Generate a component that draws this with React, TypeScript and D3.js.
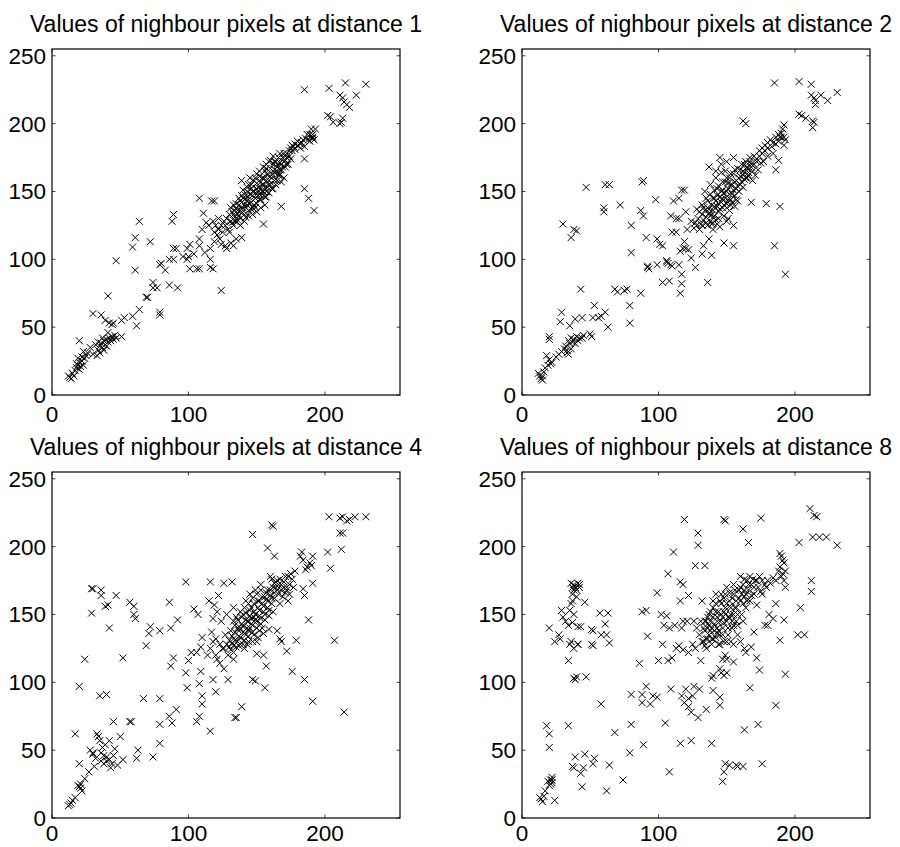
import React from "react";
import { scaleLinear } from "d3";

// values, [x, y] in pixel-value units
const dist1: number[][] = [
  [230,229],[215,230],[203,226],[185,225],[211,221],[223,221],[213,219],[214,216],[216,214],[218,212],[202,206],[204,205],[206,201],[211,200],[213,204],[212,201],
  [189,190],[191,189],[188,188],[190,191],[193,196],[190,196],[191,190],[192,188],[189,187],[185,183],[182,182],[177,183],[175,182],[178,185],[180,184],[183,186],[186,189],[172,178],[176,180],[174,176],[185,174],[185,152],[188,145],[192,136],[168,139],[155,126],[124,77],
  [170,172],[172,170],[169,175],[171,168],[166,163],[170,160],[168,157],[173,170],[175,174],[167,166],[165,170],[163,166],[161,160],[164,155],[160,173],[162,176],[167,178],[171,176],[158,163],[157,167],
  [130,133],[132,135],[134,131],[135,138],[136,134],[137,140],[138,136],[139,142],[140,138],[141,133],[142,145],[143,140],[144,136],[145,148],[146,142],[147,138],[148,150],[149,145],[150,141],[151,153],[152,148],[153,144],[154,155],[155,150],[156,146],[157,158],[158,153],[159,149],[160,161],[161,156],[162,152],[163,164],[164,159],[165,168],[166,162],[167,171],[168,166],[135,128],[138,130],[141,128],[144,132],[147,133],[150,135],[153,138],[156,140],[140,151],[144,155],[148,158],[152,161],[156,165],[145,160],[142,147],[133,140],[131,128],[128,130],[127,125],[129,122],[139,158],[146,152],[150,156],[154,160],[137,145],[136,129],[134,136],[143,143],[147,147],[151,150],[155,155],[159,158],[148,140],[152,144],[145,135],[139,134],[142,138],[157,150],[160,155],[153,152],
  [131,138],[133,133],[135,141],[136,136],[138,143],[139,137],[140,145],[141,140],[143,150],[144,146],[145,141],[146,155],[147,150],[148,146],[149,160],[150,152],[151,147],[152,165],[153,157],[154,150],[155,160],[156,153],[157,170],[158,162],[159,155],[160,167],[161,163],[162,170],[163,158],[164,172],[165,165],[166,175],[167,162],[168,170],[169,168],[170,178],[171,173],[172,175],[174,180],[176,184],[178,181],[180,187],[182,185],[184,188],[187,192],[189,192],[191,192],[142,131],[146,137],[149,138],[153,147],[157,146],[161,152],[165,158],[137,132],[134,128],[139,147],[143,153],[150,163],[155,168],[159,172],[163,172],[138,125],[132,127],
  [108,145],[117,143],[119,143],[111,134],[110,122],[108,115],[108,110],[101,111],[99,108],[100,102],[99,100],[101,93],[106,93],[108,93],[116,100],[116,94],[118,93],[116,108],[119,113],[121,118],[123,115],[124,111],[127,110],[128,108],[131,112],[133,110],[135,115],[139,116],[120,125],[122,122],[125,120],[126,128],[122,130],[118,128],[115,125],[113,127],[119,120],[124,125],[112,105],[104,104],[130,120],[133,125],
  [89,133],[88,128],[89,108],[91,108],[86,100],[79,96],[80,97],[89,100],[92,79],[86,81],[74,83],[69,72],[70,72],[74,79],[79,61],[79,59],[64,128],[61,116],[59,109],[72,113],[47,99],[61,92],[41,73],[64,63],[62,51],[59,58],[53,57],[51,55],[45,53],[51,43],[30,60],[36,59],[39,55],[42,53],[44,52],[96,102],[77,79],[83,92],
  [20,40],[23,32],[19,27],[28,35],[26,31],[30,30],[33,29],[34,33],[35,36],[36,38],[37,35],[38,40],[39,37],[40,41],[41,39],[42,42],[43,40],[44,43],[45,41],[35,31],[38,33],[32,37],[40,36],[46,44],[47,42],[37,42],[34,39],[41,46],
  [12,14],[14,12],[15,16],[17,18],[18,20],[19,22],[20,24],[21,21],[22,25],[24,27],[20,19],[16,14],[18,23],[22,28],[25,29],[23,22],[13,13],
];

const dist2: number[][] = [
  [185,230],[203,231],[212,229],[231,223],[212,221],[214,219],[219,221],[215,217],[224,217],[215,214],[203,207],[205,206],[208,204],[213,202],[214,201],[213,197],[162,202],[164,200],
  [192,199],[191,196],[190,193],[192,190],[193,188],[192,184],[189,190],[188,187],[186,185],[183,183],[180,182],[188,173],[186,166],[189,139],[179,141],[168,142],[155,125],[148,112],[155,110],[185,110],[193,89],[136,83],[139,103],
  [178,180],[176,178],[174,176],[172,174],[175,171],[170,170],[173,166],[168,168],[166,164],[171,162],[169,158],[165,160],[167,172],[163,170],[160,166],[162,162],[177,172],[180,176],[184,178],
  [127,127],[129,130],[131,126],[132,133],[133,129],[134,136],[135,131],[136,138],[137,134],[138,128],[139,140],[140,136],[141,132],[142,143],[143,139],[144,135],[145,146],[146,142],[147,138],[148,149],[149,145],[150,141],[151,152],[152,148],[153,144],[154,155],[155,151],[156,147],[157,158],[158,154],[159,150],[160,161],[161,157],[162,153],[163,164],[164,160],[165,167],[132,140],[135,145],[138,148],[141,151],[144,154],[147,157],[150,160],[153,163],[156,166],[136,125],[140,127],[144,130],[148,132],[152,136],[156,139],[130,122],[126,123],[124,128],[128,137],[134,150],[137,168],[145,175],[150,172],[142,160],[146,164],[155,175],[139,126],[143,126],[151,130],[154,142],[158,143],[143,147],[147,151],[151,156],[149,165],[138,132],[141,145],
  [130,135],[133,138],[135,127],[136,143],[137,137],[139,133],[140,145],[141,139],[142,129],[143,152],[144,141],[145,137],[146,150],[147,145],[148,140],[149,157],[150,150],[151,144],[152,160],[153,155],[154,148],[155,163],[156,157],[157,152],[158,167],[159,160],[160,155],[161,170],[162,165],[163,159],[164,172],[165,168],[166,162],[167,175],[168,170],[169,165],[170,176],[172,172],[174,180],[176,182],[178,184],[180,186],[182,188],[184,186],[186,190],[188,192],[190,190],[140,122],[145,124],[150,128],[138,155],[142,165],[146,170],[132,125],[128,125],[150,138],[153,140],[157,144],
  [121,122],[119,113],[120,108],[118,108],[122,107],[116,106],[124,101],[127,94],[133,110],[132,104],[137,115],[116,75],[117,82],[117,89],[108,84],[103,83],[99,96],[101,111],[99,115],[103,110],[92,94],[93,93],[92,95],[106,98],[107,97],[109,96],[115,96],[110,95],[113,130],[109,132],[111,143],[115,145],[117,151],[119,151],[110,120],[113,120],[115,130],[120,135],[98,144],[106,99],
  [30,126],[36,116],[38,122],[40,121],[47,153],[60,138],[60,135],[61,155],[64,155],[72,140],[80,125],[80,105],[87,136],[89,132],[88,157],[89,158],[91,116],[79,66],[79,53],[87,75],[77,78],[75,77],[70,76],[68,78],[43,78],[61,61],[63,50],[58,58],[56,57],[53,66],[52,57],[44,57],[39,56],[35,51],[28,54],[29,61],[20,43],[20,41],
  [18,29],[20,26],[22,24],[21,23],[25,28],[27,30],[29,32],[31,34],[33,33],[32,36],[35,38],[34,40],[36,42],[37,39],[38,41],[39,38],[40,43],[41,40],[42,42],[44,42],[45,44],[50,45],[51,43],[33,31],[34,30],[36,34],
  [14,12],[15,11],[13,14],[16,17],[12,16],[17,20],[19,22],[15,14],
];

const dist4: number[][] = [
  [203,222],[211,221],[213,222],[216,219],[218,220],[222,222],[230,222],[211,210],[213,210],[212,198],[202,196],[204,184],[147,209],[161,216],[162,215],[158,199],[163,193],
  [183,196],[182,193],[184,190],[189,188],[190,186],[191,193],[187,185],[186,183],[191,173],[184,169],[185,164],[188,146],[207,131],[214,78],[191,86],[185,102],[176,108],[172,123],[179,131],[167,132],[168,130],[165,138],[156,96],[157,112],[155,120],[150,121],[147,102],[149,101],[134,74],[135,74],[139,82],
  [175,180],[178,182],[173,178],[176,176],[170,174],[172,170],[168,168],[166,172],[164,170],[169,163],[171,166],[167,158],[173,160],[174,165],[177,170],[163,162],[160,178],[161,176],[165,175],
  [128,128],[130,131],[131,124],[132,134],[133,127],[134,137],[135,131],[136,140],[137,134],[138,128],[139,143],[140,137],[141,131],[142,146],[143,140],[144,134],[145,149],[146,143],[147,137],[148,152],[149,146],[150,140],[151,155],[152,149],[153,143],[154,158],[155,152],[156,146],[157,161],[158,155],[159,149],[160,164],[161,158],[162,152],[135,148],[138,152],[141,155],[144,158],[147,162],[150,165],[153,168],[143,128],[147,130],[151,133],[155,136],[159,139],[129,120],[125,125],[127,135],[133,145],[140,150],[146,155],[152,160],[145,140],[149,144],[137,127],[141,125],[133,122],[150,130],[154,140],[138,140],[142,135],[148,148],[156,163],[158,168],[142,160],[144,145],
  [131,138],[133,132],[134,142],[135,126],[136,146],[137,138],[138,133],[139,148],[140,141],[141,136],[142,151],[143,145],[144,138],[145,153],[146,147],[147,142],[148,158],[149,150],[150,145],[151,160],[152,153],[153,147],[154,163],[155,156],[156,150],[157,166],[158,160],[159,153],[160,168],[161,162],[162,170],[163,166],[164,174],[165,168],[166,165],[167,176],[168,172],[170,170],[171,178],[172,168],[174,172],[163,173],[136,130],[140,128],[144,130],[148,135],[152,138],[132,129],[130,126],[145,165],[149,168],[153,172],
  [115,160],[119,157],[122,164],[116,174],[126,173],[132,174],[118,147],[121,152],[124,145],[128,150],[133,155],[117,137],[120,132],[123,128],[126,125],[116,125],[118,130],[120,120],[114,120],[123,114],[126,110],[121,117],[133,117],[129,102],[118,102],[120,93],[110,84],[110,90],[108,99],[106,71],[108,75],[116,64],[106,122],[100,116],[98,107],[99,96],[98,174],[109,108],[109,126],[110,133],[107,150],[104,154],[102,122],
  [91,80],[86,75],[88,70],[87,112],[89,118],[87,140],[86,159],[92,146],[79,138],[79,88],[79,69],[79,55],[71,136],[72,141],[69,127],[67,88],[74,45],[63,50],[62,44],[57,159],[60,156],[60,150],[61,147],[52,118],[47,164],[42,140],[39,156],[41,157],[36,168],[36,164],[29,169],[30,169],[29,151],[24,117],[20,97],[35,90],[40,91],[17,62],[20,40],
  [45,71],[50,60],[57,71],[58,71],[33,62],[34,60],[35,57],[37,52],[38,46],[40,45],[42,43],[44,40],[32,44],[30,48],[39,54],[42,57],[28,50],[30,47],[36,42],[40,42],[38,40],[45,46],[46,51],[43,37],[31,38],[36,48],[52,43],[48,39],
  [20,23],[21,22],[19,24],[17,15],[14,11],[12,9],[13,10],[15,13],[22,20],[21,25],[24,29],[27,34],
];

const dist8: number[][] = [
  [211,228],[214,223],[216,222],[213,207],[218,207],[223,207],[231,201],[203,203],[175,221],[148,220],[149,219],[119,220],[162,213],[129,210],[129,201],[166,203],[111,196],[127,186],[134,186],[107,180],[116,174],[118,172],[116,160],[122,164],[99,166],[102,150],[88,152],[91,153],[92,134],[86,114],[80,69],[79,48],[89,54],[91,97],[88,91],[88,85],[80,91],
  [163,65],[167,96],[173,69],[176,40],[186,83],[174,109],[193,106],[192,146],[180,142],[189,131],[202,135],[207,135],[204,155],[212,167],[212,175],[193,170],
  [189,195],[190,193],[191,190],[192,188],[189,185],[193,182],[190,178],[191,180],[192,175],[186,175],[182,173],[179,170],[176,165],[172,157],[178,172],[175,167],[180,175],[184,177],[188,182],[186,158],[184,147],[181,150],[178,142],
  [168,126],[172,118],[164,122],[163,125],[170,137],[160,130],
  [130,135],[132,130],[133,140],[134,127],[135,145],[136,132],[137,150],[138,138],[139,128],[140,155],[141,143],[142,133],[143,148],[144,138],[145,160],[146,150],[147,140],[148,130],[149,155],[150,145],[151,135],[152,160],[153,150],[154,140],[155,165],[156,155],[157,145],[158,135],[159,168],[160,160],[161,150],[162,172],[163,163],[164,155],[165,175],[166,168],[167,160],[168,172],[170,165],[171,175],[173,170],[146,165],[150,170],[155,172],[160,178],[138,145],[142,152],[148,144],[152,148],[145,128],[140,132],[135,125],[128,140],[126,145],[132,160],[142,165],[150,130],[155,128],[158,142],[162,145],[134,145],[144,144],[148,152],[152,156],[154,145],[137,142],[145,135],[157,155],[163,168],[153,130],[149,120],
  [133,130],[134,138],[135,132],[136,148],[137,135],[138,152],[139,140],[140,148],[141,138],[142,158],[143,140],[144,152],[145,145],[146,158],[147,148],[148,162],[149,150],[150,158],[151,148],[152,166],[153,155],[154,162],[155,150],[156,168],[157,160],[158,150],[159,162],[160,170],[161,165],[162,158],[163,176],[164,165],[165,160],[166,172],[167,178],[168,164],[169,176],[170,170],[172,175],[174,178],[176,175],[139,132],[143,136],[147,135],[151,140],[155,142],[144,128],[136,140],[131,145],[140,160],[149,165],
  [147,117],[150,117],[155,115],[145,110],[146,107],[150,107],[148,105],[140,105],[140,94],[145,89],[145,83],[139,103],[130,95],[135,80],[125,90],[122,88],[122,82],[124,78],[129,74],[126,97],[117,90],[119,85],[120,95],[124,57],[116,55],[139,55],[131,116],[127,125],[125,128],[122,122],[118,124],[115,127],[113,125],[110,118],[107,116],[103,128],[100,116],[108,140],[112,142],[117,140],[118,145],[121,145],[106,149],[104,142],[109,95],[105,70],[108,34],[99,89],[94,84],[96,90],
  [147,27],[148,34],[149,40],[152,39],[157,39],[158,38],[162,38],
  [68,63],[74,28],[64,39],[62,20],[58,84],[53,44],[52,40],[52,138],[52,127],[63,151],[64,129],[61,143],[62,135],[57,151],[58,135],[51,128],[51,139],[46,159],[43,141],[41,128],[47,104],[40,104],[39,102],[38,103],[34,116],[34,68],[46,47],[45,37],[44,23],[37,38],[38,37],[39,45],[43,33],
  [37,165],[38,168],[39,170],[40,163],[37,160],[36,158],[35,153],[29,153],[30,148],[32,145],[34,142],[36,130],[35,128],[38,125],[41,128],[27,135],[28,132],[24,130],[20,140],[36,173],[38,172],[41,173],[42,170],[40,168],[37,170],[42,172],[38,150],[37,144],[41,141],
  [18,68],[20,62],[20,52],[22,26],[21,25],[20,24],[19,27],[22,30],[17,20],[16,16],[14,14],[15,12],[13,15],[24,13],[21,28],[22,28],
];

const titles = [
  "Values of nighbour pixels at distance 1",
  "Values of nighbour pixels at distance 2",
  "Values of nighbour pixels at distance 4",
  "Values of nighbour pixels at distance 8",
];
const xTicks = [0, 100, 200];
const yTicks = [0, 50, 100, 150, 200, 250];

const W = 348;
const H = 346;
const font = "'Liberation Sans', Arial, Helvetica, sans-serif";

const Panel = ({ left, top, title, data, labelGap }) => {
  const x = scaleLinear().domain([0, 255]).range([0, W]);
  const y = scaleLinear().domain([0, 255]).range([H, 0]);
  const r = 3.5;
  const d = data
    .map(([a, b]) => {
      const px = x(a);
      const py = y(b);
      return `M${px - r},${py - r}L${px + r},${py + r}M${px - r},${py + r}L${px + r},${py - r}`;
    })
    .join("");
  const tl = 3.5;

  return (
    <g transform={`translate(${left},${top})`} fontFamily={font}>
      <text x={W / 2} y={-17} textAnchor="middle" fontSize={23}>
        {title}
      </text>
      <path d={d} fill="none" stroke="#000" strokeWidth={1} />
      {xTicks.map((t) => (
        <g key={"x" + t}>
          <line x1={x(t)} x2={x(t)} y1={H} y2={H - tl} stroke="#444" />
          <line x1={x(t)} x2={x(t)} y1={0} y2={tl} stroke="#444" />
          <text x={x(t)} y={H + labelGap} textAnchor="middle" fontSize={22.5}>
            {t}
          </text>
        </g>
      ))}
      {yTicks.map((t) => (
        <g key={"y" + t}>
          <line x1={0} x2={tl} y1={y(t)} y2={y(t)} stroke="#444" />
          <line x1={W} x2={W - tl} y1={y(t)} y2={y(t)} stroke="#444" />
          <text x={-6} y={y(t) + 8} textAnchor="end" fontSize={22.5}>
            {t}
          </text>
        </g>
      ))}
      <rect x={0} y={0} width={W} height={H} fill="none" stroke="#000" strokeWidth={1.2} />
    </g>
  );
};

export default function App() {
  const panels = [
    { left: 52, top: 49, data: dist1, gap: 27 },
    { left: 522, top: 49, data: dist2, gap: 27 },
    { left: 52, top: 472, data: dist4, gap: 23 },
    { left: 522, top: 472, data: dist8, gap: 23 },
  ];
  return (
    <svg
      width={900}
      height={847}
      style={{ position: "absolute", left: 0, top: 0, background: "#fff" }}
    >
      {panels.map((p, i) => (
        <Panel key={i} left={p.left} top={p.top} title={titles[i]} data={p.data} labelGap={p.gap} />
      ))}
    </svg>
  );
}
